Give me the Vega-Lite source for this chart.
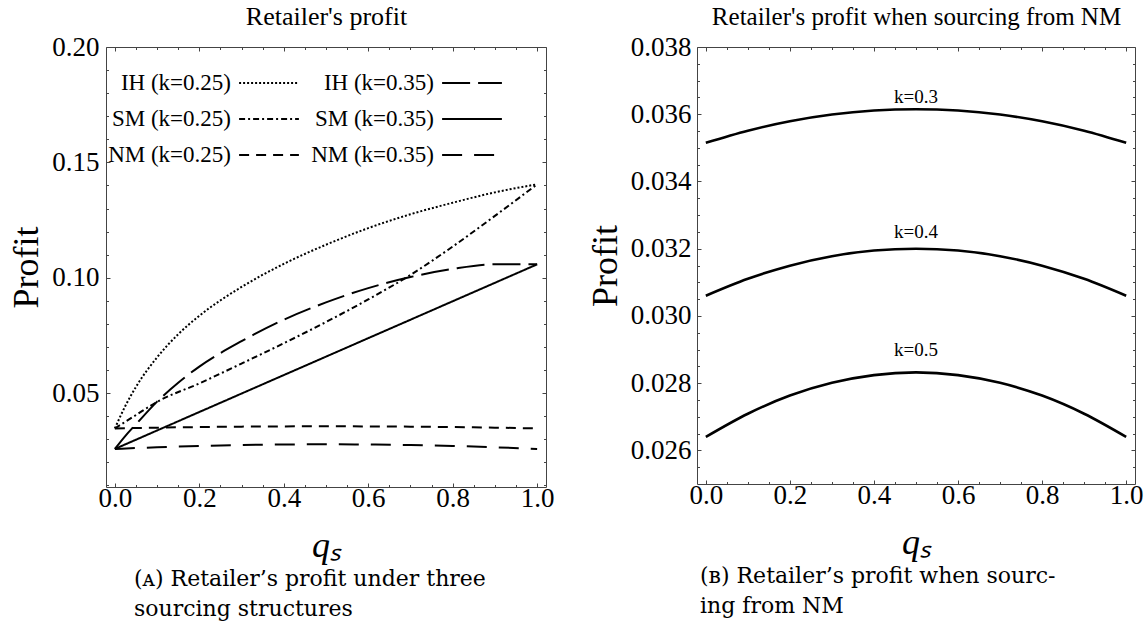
{
  "$schema": "https://vega.github.io/schema/vega-lite/v6.json",
  "background": "white",
  "padding": {"left": 8, "top": 3, "right": 5, "bottom": 5},
  "bounds": "flush",
  "spacing": 151,
  "config": {
    "font": "Liberation Serif",
    "view": {"stroke": "#444", "strokeWidth": 1},
    "axis": {"grid": false, "domain": false, "tickColor": "#444", "tickWidth": 1, "labelColor": "black", "titleColor": "black", "labelFont": "Liberation Serif", "titleFont": "Liberation Serif", "titleFontWeight": "normal", "labelFlush": false, "labelOverlap": false, "labelBound": false}
  },
  "datasets": {
    "left": [
      {"q": 0, "profit": 0.0347, "series": "IH (k=0.25)"},
      {"q": 0.025, "profit": 0.0445, "series": "IH (k=0.25)"},
      {"q": 0.05, "profit": 0.0527, "series": "IH (k=0.25)"},
      {"q": 0.1, "profit": 0.0655, "series": "IH (k=0.25)"},
      {"q": 0.15, "profit": 0.0755, "series": "IH (k=0.25)"},
      {"q": 0.2, "profit": 0.0835, "series": "IH (k=0.25)"},
      {"q": 0.3, "profit": 0.096, "series": "IH (k=0.25)"},
      {"q": 0.4, "profit": 0.106, "series": "IH (k=0.25)"},
      {"q": 0.5, "profit": 0.1143, "series": "IH (k=0.25)"},
      {"q": 0.6, "profit": 0.1215, "series": "IH (k=0.25)"},
      {"q": 0.7, "profit": 0.1275, "series": "IH (k=0.25)"},
      {"q": 0.8, "profit": 0.1325, "series": "IH (k=0.25)"},
      {"q": 0.9, "profit": 0.137, "series": "IH (k=0.25)"},
      {"q": 1, "profit": 0.1405, "series": "IH (k=0.25)"},
      {"q": 0, "profit": 0.0258, "series": "IH (k=0.35)"},
      {"q": 0.025, "profit": 0.0315, "series": "IH (k=0.35)"},
      {"q": 0.05, "profit": 0.0365, "series": "IH (k=0.35)"},
      {"q": 0.1, "profit": 0.0463, "series": "IH (k=0.35)"},
      {"q": 0.15, "profit": 0.0545, "series": "IH (k=0.35)"},
      {"q": 0.2, "profit": 0.0615, "series": "IH (k=0.35)"},
      {"q": 0.3, "profit": 0.0725, "series": "IH (k=0.35)"},
      {"q": 0.4, "profit": 0.0818, "series": "IH (k=0.35)"},
      {"q": 0.5, "profit": 0.0893, "series": "IH (k=0.35)"},
      {"q": 0.6, "profit": 0.0955, "series": "IH (k=0.35)"},
      {"q": 0.7, "profit": 0.1003, "series": "IH (k=0.35)"},
      {"q": 0.8, "profit": 0.1038, "series": "IH (k=0.35)"},
      {"q": 0.9, "profit": 0.1058, "series": "IH (k=0.35)"},
      {"q": 1, "profit": 0.1058, "series": "IH (k=0.35)"},
      {"q": 0, "profit": 0.0347, "series": "SM (k=0.25)"},
      {"q": 0.05, "profit": 0.0405, "series": "SM (k=0.25)"},
      {"q": 0.1, "profit": 0.0462, "series": "SM (k=0.25)"},
      {"q": 0.2, "profit": 0.0542, "series": "SM (k=0.25)"},
      {"q": 0.3, "profit": 0.0628, "series": "SM (k=0.25)"},
      {"q": 0.4, "profit": 0.0716, "series": "SM (k=0.25)"},
      {"q": 0.5, "profit": 0.0808, "series": "SM (k=0.25)"},
      {"q": 0.6, "profit": 0.0906, "series": "SM (k=0.25)"},
      {"q": 0.7, "profit": 0.1012, "series": "SM (k=0.25)"},
      {"q": 0.8, "profit": 0.1135, "series": "SM (k=0.25)"},
      {"q": 0.9, "profit": 0.1268, "series": "SM (k=0.25)"},
      {"q": 1, "profit": 0.1405, "series": "SM (k=0.25)"},
      {"q": 0, "profit": 0.0258, "series": "SM (k=0.35)"},
      {"q": 0.1, "profit": 0.0338, "series": "SM (k=0.35)"},
      {"q": 0.2, "profit": 0.0418, "series": "SM (k=0.35)"},
      {"q": 0.3, "profit": 0.0498, "series": "SM (k=0.35)"},
      {"q": 0.4, "profit": 0.0578, "series": "SM (k=0.35)"},
      {"q": 0.5, "profit": 0.0658, "series": "SM (k=0.35)"},
      {"q": 0.6, "profit": 0.0738, "series": "SM (k=0.35)"},
      {"q": 0.7, "profit": 0.0818, "series": "SM (k=0.35)"},
      {"q": 0.8, "profit": 0.0898, "series": "SM (k=0.35)"},
      {"q": 0.9, "profit": 0.0978, "series": "SM (k=0.35)"},
      {"q": 1, "profit": 0.1058, "series": "SM (k=0.35)"},
      {"q": 0, "profit": 0.0347, "series": "NM (k=0.25)"},
      {"q": 0.1, "profit": 0.03502, "series": "NM (k=0.25)"},
      {"q": 0.2, "profit": 0.03528, "series": "NM (k=0.25)"},
      {"q": 0.3, "profit": 0.03546, "series": "NM (k=0.25)"},
      {"q": 0.4, "profit": 0.03556, "series": "NM (k=0.25)"},
      {"q": 0.5, "profit": 0.0356, "series": "NM (k=0.25)"},
      {"q": 0.6, "profit": 0.03556, "series": "NM (k=0.25)"},
      {"q": 0.7, "profit": 0.03546, "series": "NM (k=0.25)"},
      {"q": 0.8, "profit": 0.03528, "series": "NM (k=0.25)"},
      {"q": 0.9, "profit": 0.03502, "series": "NM (k=0.25)"},
      {"q": 1, "profit": 0.0347, "series": "NM (k=0.25)"},
      {"q": 0, "profit": 0.0258, "series": "NM (k=0.35)"},
      {"q": 0.1, "profit": 0.02652, "series": "NM (k=0.35)"},
      {"q": 0.2, "profit": 0.02708, "series": "NM (k=0.35)"},
      {"q": 0.3, "profit": 0.02748, "series": "NM (k=0.35)"},
      {"q": 0.4, "profit": 0.02772, "series": "NM (k=0.35)"},
      {"q": 0.5, "profit": 0.0278, "series": "NM (k=0.35)"},
      {"q": 0.6, "profit": 0.02772, "series": "NM (k=0.35)"},
      {"q": 0.7, "profit": 0.02748, "series": "NM (k=0.35)"},
      {"q": 0.8, "profit": 0.02708, "series": "NM (k=0.35)"},
      {"q": 0.9, "profit": 0.02652, "series": "NM (k=0.35)"},
      {"q": 1, "profit": 0.0258, "series": "NM (k=0.35)"}
    ],
    "right": [
      {"q": 0, "profit": 0.03515, "k": "k=0.3"},
      {"q": 0.1, "profit": 0.03551, "k": "k=0.3"},
      {"q": 0.2, "profit": 0.03579, "k": "k=0.3"},
      {"q": 0.3, "profit": 0.03599, "k": "k=0.3"},
      {"q": 0.4, "profit": 0.03611, "k": "k=0.3"},
      {"q": 0.5, "profit": 0.03615, "k": "k=0.3"},
      {"q": 0.6, "profit": 0.03611, "k": "k=0.3"},
      {"q": 0.7, "profit": 0.03599, "k": "k=0.3"},
      {"q": 0.8, "profit": 0.03579, "k": "k=0.3"},
      {"q": 0.9, "profit": 0.03551, "k": "k=0.3"},
      {"q": 1, "profit": 0.03515, "k": "k=0.3"},
      {"q": 0, "profit": 0.0306, "k": "k=0.4"},
      {"q": 0.1, "profit": 0.031104, "k": "k=0.4"},
      {"q": 0.2, "profit": 0.031496, "k": "k=0.4"},
      {"q": 0.3, "profit": 0.031776, "k": "k=0.4"},
      {"q": 0.4, "profit": 0.031944, "k": "k=0.4"},
      {"q": 0.5, "profit": 0.032, "k": "k=0.4"},
      {"q": 0.6, "profit": 0.031944, "k": "k=0.4"},
      {"q": 0.7, "profit": 0.031776, "k": "k=0.4"},
      {"q": 0.8, "profit": 0.031496, "k": "k=0.4"},
      {"q": 0.9, "profit": 0.031104, "k": "k=0.4"},
      {"q": 1, "profit": 0.0306, "k": "k=0.4"},
      {"q": 0, "profit": 0.0264, "k": "k=0.5"},
      {"q": 0.1, "profit": 0.02709, "k": "k=0.5"},
      {"q": 0.2, "profit": 0.02763, "k": "k=0.5"},
      {"q": 0.3, "profit": 0.02801, "k": "k=0.5"},
      {"q": 0.4, "profit": 0.02824, "k": "k=0.5"},
      {"q": 0.5, "profit": 0.02832, "k": "k=0.5"},
      {"q": 0.6, "profit": 0.02824, "k": "k=0.5"},
      {"q": 0.7, "profit": 0.02801, "k": "k=0.5"},
      {"q": 0.8, "profit": 0.02763, "k": "k=0.5"},
      {"q": 0.9, "profit": 0.02709, "k": "k=0.5"},
      {"q": 1, "profit": 0.0264, "k": "k=0.5"}
    ],
    "rightLabels": [
      {"q": 0.5, "profit": 0.03633, "label": "k=0.3"},
      {"q": 0.5, "profit": 0.03233, "label": "k=0.4"},
      {"q": 0.5, "profit": 0.02881, "label": "k=0.5"}
    ]
  },
  "hconcat": [
    {
      "width": 440,
      "height": 440,
      "data": {"name": "left"},
      "title": {"text": ["(ᴀ) Retailer’s profit under three", "sourcing structures"], "orient": "bottom", "anchor": "start", "frame": "group", "dx": 28, "offset": 6, "fontSize": 22, "font": "DejaVu Serif", "fontWeight": "normal", "lineHeight": 30, "color": "black"},
      "layer": [
        {
          "mark": {"type": "line", "color": "black", "strokeWidth": 2, "interpolate": "monotone"},
          "encoding": {
            "x": {"field": "q", "type": "quantitative", "scale": {"domain": [-0.021, 1.021], "nice": false, "zero": false},
              "axis": {"orient": "bottom", "values": [0, 0.2, 0.4, 0.6, 0.8, 1], "format": ".1f", "tickSize": -4, "labelFontSize": 27, "labelPadding": 2, "title": "qₛ", "titleFontSize": 36, "titleFontStyle": "italic", "titlePadding": 17}},
            "y": {"field": "profit", "type": "quantitative", "scale": {"domain": [0.0093, 0.2], "nice": false, "zero": false},
              "axis": {"orient": "left", "values": [0.05, 0.1, 0.15, 0.2], "format": ".2f", "tickSize": -4, "labelFontSize": 27, "labelPadding": 11, "title": "Profit", "titleFontSize": 36, "titlePadding": 6}},
            "strokeDash": {"field": "series", "type": "nominal",
              "scale": {"domain": ["IH (k=0.25)", "SM (k=0.25)", "NM (k=0.25)", "IH (k=0.35)", "SM (k=0.35)", "NM (k=0.35)"], "range": [[2, 2], [6, 3, 2, 3], [10, 7], [28, 8], [1, 0], [20, 12]]},
              "legend": {"orient": "none", "legendX": 14, "legendY": 12, "columns": 2, "title": null, "symbolType": "M-1.3,0H1.3", "symbolSize": 2116, "symbolStrokeWidth": 2, "symbolStrokeColor": "black", "symbolFillColor": "transparent", "symbolOffset": 125, "labelAlign": "right", "labelOffset": -62, "labelFontSize": 23, "labelFont": "Liberation Serif", "labelColor": "black", "labelLimit": 300, "columnPadding": 8, "rowPadding": 0}}
          }
        },
        {
          "mark": {"type": "line", "strokeOpacity": 0},
          "encoding": {
            "x": {"field": "q", "type": "quantitative", "axis": {"orient": "bottom", "values": [0.05, 0.1, 0.15, 0.25, 0.3, 0.35, 0.45, 0.5, 0.55, 0.65, 0.7, 0.75, 0.85, 0.9, 0.95], "labels": false, "tickSize": -2.5, "title": null}},
            "y": {"field": "profit", "type": "quantitative", "axis": {"orient": "left", "values": [0.01, 0.02, 0.03, 0.04, 0.06, 0.07, 0.08, 0.09, 0.11, 0.12, 0.13, 0.14, 0.16, 0.17, 0.18, 0.19], "labels": false, "tickSize": -2.5, "title": null}},
            "detail": {"field": "series"}
          }
        },
        {
          "mark": {"type": "line", "strokeOpacity": 0},
          "encoding": {
            "x": {"field": "q", "type": "quantitative", "axis": {"orient": "top", "values": [0, 0.2, 0.4, 0.6, 0.8, 1], "labels": false, "tickSize": -4, "title": "Retailer's profit", "titleFontSize": 26, "titlePadding": 17}},
            "y": {"field": "profit", "type": "quantitative", "axis": {"orient": "right", "values": [0.05, 0.1, 0.15, 0.2], "labels": false, "tickSize": -4, "title": null}},
            "detail": {"field": "series"}
          }
        },
        {
          "mark": {"type": "line", "strokeOpacity": 0},
          "encoding": {
            "x": {"field": "q", "type": "quantitative", "axis": {"orient": "top", "values": [0.05, 0.1, 0.15, 0.25, 0.3, 0.35, 0.45, 0.5, 0.55, 0.65, 0.7, 0.75, 0.85, 0.9, 0.95], "labels": false, "tickSize": -2.5, "title": null}},
            "y": {"field": "profit", "type": "quantitative", "axis": {"orient": "right", "values": [0.01, 0.02, 0.03, 0.04, 0.06, 0.07, 0.08, 0.09, 0.11, 0.12, 0.13, 0.14, 0.16, 0.17, 0.18, 0.19], "labels": false, "tickSize": -2.5, "title": null}},
            "detail": {"field": "series"}
          }
        }
      ],
      "resolve": {"axis": {"x": "independent", "y": "independent"}}
    },
    {
      "width": 438,
      "height": 437,
      "data": {"name": "right"},
      "title": {"text": ["(ʙ) Retailer’s profit when sourc-", "ing from NM"], "orient": "bottom", "anchor": "start", "frame": "group", "dx": 3, "offset": 6, "fontSize": 22, "font": "DejaVu Serif", "fontWeight": "normal", "lineHeight": 30, "color": "black"},
      "layer": [
        {
          "mark": {"type": "line", "color": "black", "strokeWidth": 2.6, "interpolate": "monotone"},
          "encoding": {
            "x": {"field": "q", "type": "quantitative", "scale": {"domain": [-0.021, 1.021], "nice": false, "zero": false},
              "axis": {"orient": "bottom", "values": [0, 0.2, 0.4, 0.6, 0.8, 1], "format": ".1f", "tickSize": -4, "labelFontSize": 27, "labelPadding": 2, "title": "qₛ", "titleFontSize": 36, "titleFontStyle": "italic", "titlePadding": 17}},
            "y": {"field": "profit", "type": "quantitative", "scale": {"domain": [0.025, 0.038], "nice": false, "zero": false},
              "axis": {"orient": "left", "values": [0.026, 0.028, 0.03, 0.032, 0.034, 0.036, 0.038], "format": ".3f", "tickSize": -4, "labelFontSize": 27, "labelPadding": 10, "title": "Profit", "titleFontSize": 36, "titlePadding": 6}},
            "detail": {"field": "k"}
          }
        },
        {
          "data": {"name": "rightLabels"},
          "mark": {"type": "text", "fontSize": 19, "font": "Liberation Serif", "color": "black", "baseline": "alphabetic", "align": "center"},
          "encoding": {
            "x": {"field": "q", "type": "quantitative", "axis": null},
            "y": {"field": "profit", "type": "quantitative", "axis": null},
            "text": {"field": "label"}
          }
        },
        {
          "mark": {"type": "line", "strokeOpacity": 0},
          "encoding": {
            "x": {"field": "q", "type": "quantitative", "axis": {"orient": "bottom", "values": [0.05, 0.1, 0.15, 0.25, 0.3, 0.35, 0.45, 0.5, 0.55, 0.65, 0.7, 0.75, 0.85, 0.9, 0.95], "labels": false, "tickSize": -2.5, "title": null}},
            "y": {"field": "profit", "type": "quantitative", "axis": {"orient": "left", "values": [0.0255, 0.0265, 0.027, 0.0275, 0.0285, 0.029, 0.0295, 0.0305, 0.031, 0.0315, 0.0325, 0.033, 0.0335, 0.0345, 0.035, 0.0355, 0.0365, 0.037, 0.0375], "labels": false, "tickSize": -2.5, "title": null}},
            "detail": {"field": "k"}
          }
        },
        {
          "mark": {"type": "line", "strokeOpacity": 0},
          "encoding": {
            "x": {"field": "q", "type": "quantitative", "axis": {"orient": "top", "values": [0, 0.2, 0.4, 0.6, 0.8, 1], "labels": false, "tickSize": -4, "title": "Retailer's profit when sourcing from NM", "titleFontSize": 25, "titlePadding": 17}},
            "y": {"field": "profit", "type": "quantitative", "axis": {"orient": "right", "values": [0.026, 0.028, 0.03, 0.032, 0.034, 0.036, 0.038], "labels": false, "tickSize": -4, "title": null}},
            "detail": {"field": "k"}
          }
        },
        {
          "mark": {"type": "line", "strokeOpacity": 0},
          "encoding": {
            "x": {"field": "q", "type": "quantitative", "axis": {"orient": "top", "values": [0.05, 0.1, 0.15, 0.25, 0.3, 0.35, 0.45, 0.5, 0.55, 0.65, 0.7, 0.75, 0.85, 0.9, 0.95], "labels": false, "tickSize": -2.5, "title": null}},
            "y": {"field": "profit", "type": "quantitative", "axis": {"orient": "right", "values": [0.0255, 0.0265, 0.027, 0.0275, 0.0285, 0.029, 0.0295, 0.0305, 0.031, 0.0315, 0.0325, 0.033, 0.0335, 0.0345, 0.035, 0.0355, 0.0365, 0.037, 0.0375], "labels": false, "tickSize": -2.5, "title": null}},
            "detail": {"field": "k"}
          }
        }
      ],
      "resolve": {"axis": {"x": "independent", "y": "independent"}}
    }
  ]
}
